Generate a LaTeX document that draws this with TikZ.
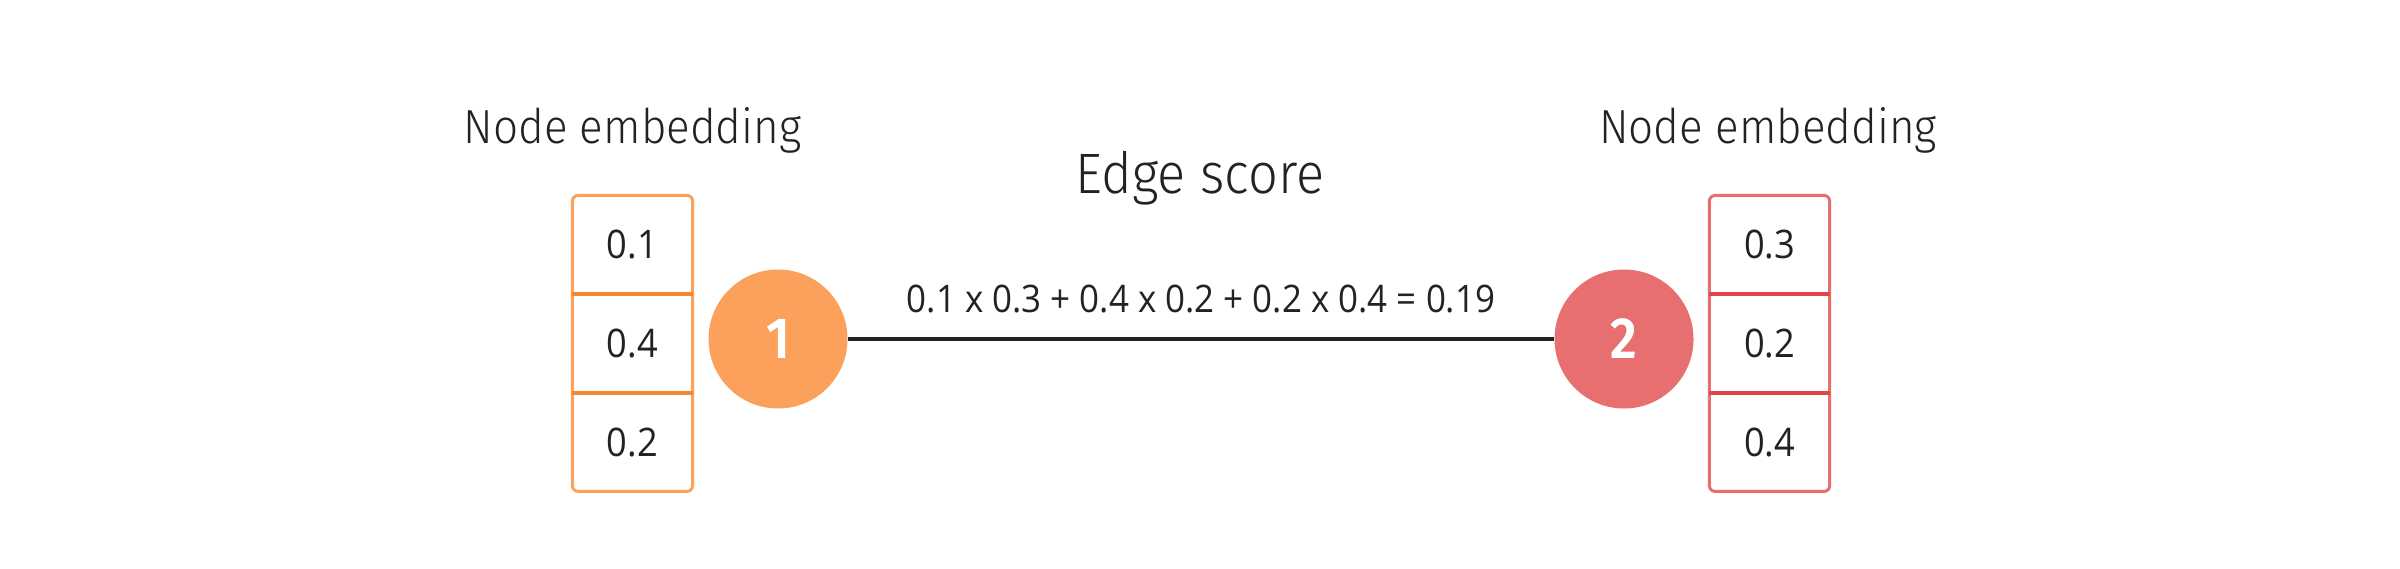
\documentclass[tikz,border=0pt]{standalone}
\usepackage{fontspec}
\setmainfont[FakeStretch=0.92]{Open Sans}
\newfontfamily\labelfont[FakeStretch=0.92]{Fira Sans Light}
\newfontfamily\numberfont[FakeStretch=0.9]{Fira Sans SemiBold}
\usetikzlibrary{positioning}

\definecolor{orangefill}{HTML}{FBA15B}
\definecolor{orangeline}{HTML}{F7872E}
\definecolor{redfill}{HTML}{E86F6F}
\definecolor{redline}{HTML}{E04649}
\definecolor{textgray}{HTML}{222222}

\begin{document}
\begin{tikzpicture}[node distance=0pt,
    cell/.style={minimum width=1.19cm,minimum height=0.973cm,inner sep=0pt,text=textgray,font=\fontsize{11.2}{13}\selectfont},
    vertex/.style={circle,minimum size=1.39cm,inner sep=0pt,text=white,font=\numberfont\fontsize{16.5}{18}\selectfont},
    heading/.style={anchor=base,text=textgray,font=\labelfont\fontsize{13.6}{16}\selectfont},
    frame/.style={line width=0.85pt,rounded corners=1.7pt},
    divider/.style={line width=1.14pt}]
    \useasboundingbox (0,0) rectangle (24,5.68);

    % embedding of node 1
    \node[cell] (a1) at (6.325,3.233) {0.1};
    \node[cell] (a2) [below=of a1] {0.4};
    \node[cell] (a3) [below=of a2] {0.2};
    \draw[frame,orangefill] (a1.north west) rectangle (a3.south east);
    \draw[divider,orangeline] (a1.south west) -- (a1.south east) (a2.south west) -- (a2.south east);

    % embedding of node 2
    \node[cell] (b1) at (17.695,3.233) {0.3};
    \node[cell] (b2) [below=of b1] {0.2};
    \node[cell] (b3) [below=of b2] {0.4};
    \draw[frame,redfill] (b1.north west) rectangle (b3.south east);
    \draw[divider,redline] (b1.south west) -- (b1.south east) (b2.south west) -- (b2.south east);

    \node[vertex,fill=orangefill] (n1) at (7.78,2.29) {1};
    \node[vertex,fill=redfill] (n2) at (16.24,2.29) {2};

    \node[heading] (h1) at (6.325,4.25) {Node embedding};
    \node[heading] (h2) at (17.68,4.25) {Node embedding};
    \node[heading,font=\labelfont\fontsize{16.2}{19}\selectfont] (score) at (12.0,3.75) {Edge score};

    \draw[line width=1.14pt,textgray] (n1) -- (n2)
        node[midway,anchor=base,yshift=0.27cm,text=textgray,font=\fontsize{10.8}{13}\selectfont] (sum) {0.1 x 0.3 + 0.4 x 0.2 + 0.2 x 0.4 = 0.19};
\end{tikzpicture}
\end{document}
